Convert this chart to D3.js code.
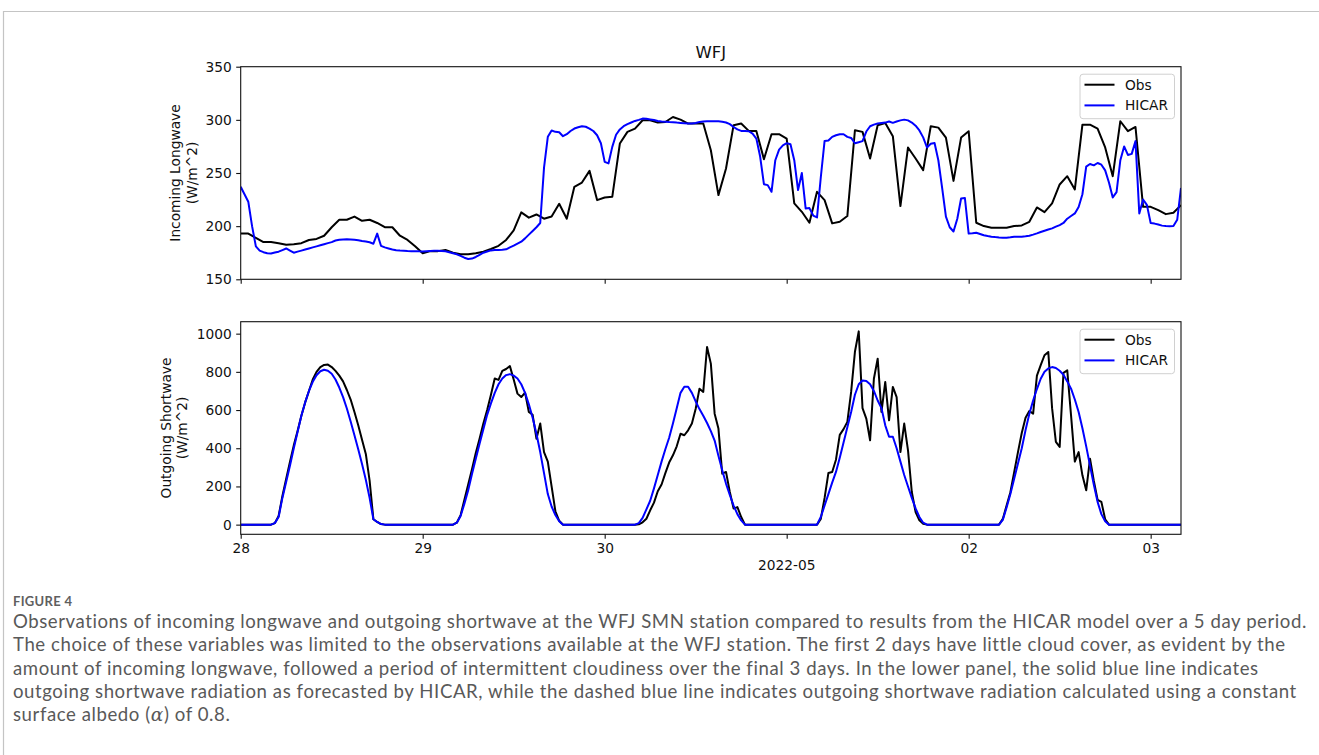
<!DOCTYPE html>
<html><head><meta charset="utf-8">
<script src="https://cdn.jsdelivr.net/npm/d3@7"></script>
<style>
body{margin:0;background:#fff;}
svg{display:block;}
</style></head><body>
<svg id="fig" width="1319" height="755"></svg>
<script>
// ---------------- DATA ----------------
const startDate = "2022-04-28T00:00:00Z";
const lastHour = 124;              // series run to 2022-05-03 04:00
const obsLwStepHours = 1;          // observed longwave: hourly
const halfHourStep = 0.5;          // HICAR and shortwave: half-hourly
const dayTickLabels = ["28", "29", "30", "", "02", "03"];
const offsetLabel = "2022-05";
const titleText = "WFJ";
const seriesNames = ["Obs", "HICAR"];
const lwTicks = [150, 200, 250, 300, 350];
const swTicks = [0, 200, 400, 600, 800, 1000];
const lwLabel = ["Incoming Longwave", "(W/m^2)"];
const swLabel = ["Outgoing Shortwave", "(W/m^2)"];

// Incoming longwave, observed (hourly, W/m^2)
const lwObs = [
 193,193,189,185,185,184,182.5,183,184,187,188,191,199,206,206,209,205,206,203,199,199,191,187,181,
 174.5,176.5,176.5,177.5,175,173.5,173.5,174.5,176,178.5,181.5,187,196,213,208,211,207,209,221,207,237,241,252,224.5,
 227,227.6,277.7,288.7,291.8,299.6,299.6,297.4,298,302.7,300.2,296.5,296.5,296.5,271.4,229.2,254.2,295,296.5,289.6,289.6,263,286.5,286.5,
 282.4,221.4,213.5,203.2,232.3,224.5,202.6,204.1,209.5,290.2,288.7,263.6,294.9,297.1,284.6,218.9,274,263.6,252.7,294,292.7,283.3,242.6,283.3,
 289.3,203.2,200.1,198.5,198.5,198.5,200.1,200.7,204.1,217.6,213.2,221.4,239.2,247,234.5,295.5,295.5,291.8,274,247,298.7,289.3,293.3,218.2,
 218.2,215.1,211.3,212.6,219.8
];
// Incoming longwave, HICAR (half-hourly, W/m^2)
const lwHicar = [
 237,230,223,200,181,177,175.5,174.5,174.3,175.2,176,177.5,179,177,175,176,177,178,179,180,181,182,183,184,
 185,186.5,187.2,187.5,187.6,187.5,187.2,186.8,186,185.5,184.8,183.5,193,181.5,180,179,178,177.3,177,176.8,176.6,176.5,176.5,176.3,
 176.2,176.4,176.6,176.8,176.8,176.6,176.4,175.5,174.5,173.5,172,170.3,169.1,169.5,171,173,175,176.2,177.2,177.5,177.6,177.8,178.2,180,
 181.6,183.5,185.4,188.5,192,195.5,199,203,255,284,290,288.7,288.3,284.6,286.5,289.5,291.8,293,294,293.5,291.8,289.5,285.5,278,
 260.5,259,274.6,286,291,294,296,297.5,299,300,301.2,301,300.4,299.8,299,298.5,298.3,298,297.8,297.4,297.1,296.8,296.5,296.5,
 297,298,298.5,298.7,298.7,298.7,298.7,298.3,297.5,296,293.3,291,289.6,289.5,289.3,287,282.4,265.5,239.5,238.6,232.3,262,272,276,
 278,277,262,234,250,216.7,217,210,208.2,246,280.2,280.5,284,285.5,286.5,286.5,284,283,278,279,280,289,294,295.5,
 296.5,297,297.4,298.5,297.2,298.5,299.5,300.2,299.5,297.5,294.5,290,283.5,274,277.5,278.3,262,236,209,199,195,207,226,226.5,
 193,193.3,193.8,192.6,191.4,190.7,190.1,189.7,189.4,189.2,189.1,189.5,190,190.1,190.1,190.5,191,192,193.2,194.5,195.7,196.8,197.9,199.5,
 201,203,207,209.5,212,218,230,256,258.5,257.2,259.4,257.8,252.5,241,227,232,262,275,267,268,280,212,225,220,
 203,202.4,201.5,200.5,200.1,200,200.1,206,236
];
// Outgoing shortwave, observed (half-hourly, W/m^2)
const swObs = [
 0,0,0,0,0,0,0,0, 0,8,45,150,240,330,415,490,570,640,700,760,800,825,836,838,825,805,780,750,705,655,590,520,445,370,230,28,14,3, 0,0,0,0,0,0,0,0,0,0,
 0,0,0,0,0,0,0,0, 0,10,50,130,210,290,375,450,530,600,680,765,758,805,815,830,760,686,668,691,590,575,450,530,380,330,200,70,20,0, 0,0,0,0,0,0,0,0,0,0,
 0,0,0,0,0,0,0,0, 0,2,12,31,75,115,175,210,270,325,363,410,476,468,494,529,607,712,695,930,843,581,503,267,276,171,84,92,40,0, 0,0,0,0,0,0,0,0,0,0,
 0,0,0,0,0,0,0,0, 0,30,140,270,276,340,470,500,538,695,905,1012,610,555,442,764,869,590,747,546,721,668,380,529,389,171,66,23,5,0, 0,0,0,0,0,0,0,0,0,0,
 0,0,0,0,0,0,0,0, 0,30,100,170,275,380,480,560,595,581,780,835,887,904,610,433,407,795,808,572,330,380,258,180,345,230,130,119,28,0, 0,0,0,0,0,0,0,0,0,0,
 0,0,0,0,0,0,0,0,0
];
// Outgoing shortwave, HICAR (half-hourly, W/m^2)
const swHicar = [
 0,0,0,0,0,0,0,0, 0,8,40,140,225,310,400,485,570,640,700,748,782,803,811,806,790,760,718,668,608,540,468,395,318,235,140,28,14,3, 0,0,0,0,0,0,0,0,0,0,
 0,0,0,0,0,0,0,0, 0,10,45,110,180,265,345,424,500,575,635,690,735,765,783,788,780,765,735,690,630,560,476,380,270,160,95,50,18,0, 0,0,0,0,0,0,0,0,0,0,
 0,0,0,0,0,0,0,0, 0,8,35,80,125,190,260,330,395,455,530,610,690,722,722,690,645,605,570,532,490,440,360,285,215,155,100,55,22,0, 0,0,0,0,0,0,0,0,0,0,
 0,0,0,0,0,0,0,0, 0,40,100,160,220,276,350,430,510,590,680,735,755,752,735,700,650,610,520,460,460,400,330,260,200,140,85,40,10,0, 0,0,0,0,0,0,0,0,0,0,
 0,0,0,0,0,0,0,0, 0,25,90,160,240,320,400,495,580,650,710,764,800,818,825,820,806,785,750,712,655,590,505,410,310,210,119,55,18,0, 0,0,0,0,0,0,0,0,0,0,
 0,0,0,0,0,0,0,0,0
];

const captionHead = "FIGURE 4";
const captionLines = [
 "Observations of incoming longwave and outgoing shortwave at the WFJ SMN station compared to results from the HICAR model over a 5 day period.",
 "The choice of these variables was limited to the observations available at the WFJ station. The first 2 days have little cloud cover, as evident by the",
 "amount of incoming longwave, followed a period of intermittent cloudiness over the final 3 days. In the lower panel, the solid blue line indicates",
 "outgoing shortwave radiation as forecasted by HICAR, while the dashed blue line indicates outgoing shortwave radiation calculated using a constant"
];
const captionLast = ["surface albedo (", "α", ") of 0.8."];

// ---------------- LAYOUT ----------------
const FONT = "'DejaVu Sans', sans-serif";
const FS = 13.75;
const colors = {Obs: "#000000", HICAR: "#0000ff"};
const L = 240.7, R = 1181;
const topPanel = {y0: 66.7, y1: 279.3};
const botPanel = {y0: 321.7, y1: 534.3};

const svg = d3.select("#fig");
const t0 = new Date(startDate);
const toDate = h => new Date(t0.getTime() + h * 3600e3);

const x = d3.scaleUtc().domain([toDate(0), toDate(lastHour)]).range([L, R]);
const days = d3.utcDay.range(toDate(0), toDate(lastHour));

const mkSeries = (vals, step) => vals.map((v, i) => ({t: toDate(i * step), v}));

// frame of the figure block
svg.append("line").attr("x1", 3).attr("x2", 1319).attr("y1", 11.5).attr("y2", 11.5)
  .attr("stroke", "#c4c4c4").attr("stroke-width", 1.2);
svg.append("line").attr("x1", 3.5).attr("x2", 3.5).attr("y1", 11).attr("y2", 755)
  .attr("stroke", "#c4c4c4").attr("stroke-width", 1.2);

function panel(p, yDomain, yTicks, series, labelLines, showXLabels, id) {
  const y = d3.scaleLinear().domain(yDomain).range([p.y1, p.y0]);
  const g = svg.append("g");
  g.append("clipPath").attr("id", id).append("rect")
    .attr("x", L).attr("y", p.y0).attr("width", R - L).attr("height", p.y1 - p.y0);

  const line = d3.line().x(d => x(d.t)).y(d => y(d.v));
  series.forEach(s => {
    g.append("path").datum(s.data).attr("clip-path", `url(#${id})`)
      .attr("d", line).attr("fill", "none").attr("stroke", colors[s.name])
      .attr("stroke-width", 2).attr("stroke-linejoin", "round");
  });

  // y axis
  const ya = g.append("g").attr("transform", `translate(${L},0)`)
    .call(d3.axisLeft(y).tickValues(yTicks).tickFormat(d3.format("d"))
      .tickSize(4.5).tickPadding(4.5).tickSizeOuter(0));
  ya.select(".domain").remove();
  // x axis
  const xa = g.append("g").attr("transform", `translate(0,${p.y1})`)
    .call(d3.axisBottom(x).tickValues(days).tickSize(4.5).tickPadding(4.5).tickSizeOuter(0)
      .tickFormat((d, i) => showXLabels ? dayTickLabels[i] : ""));
  xa.select(".domain").remove();
  [ya, xa].forEach(a => {
    a.selectAll("text").attr("font-family", FONT).attr("font-size", FS).attr("fill", "#111");
    a.selectAll("line").attr("stroke", "#111").attr("stroke-width", 1.1);
  });

  // spines
  g.append("rect").attr("x", L).attr("y", p.y0).attr("width", R - L).attr("height", p.y1 - p.y0)
    .attr("fill", "none").attr("stroke", "#111").attr("stroke-width", 1.1);

  // y label (two lines)
  const cy = (p.y0 + p.y1) / 2;
  const lx = labelLines[0].length > 17 ? [165.5, 182.3] : [175, 191.7];
  labelLines.forEach((t, i) => {
    g.append("text").attr("transform", `translate(${lx[i]},${cy}) rotate(-90)`)
      .attr("text-anchor", "middle").attr("dominant-baseline", "central")
      .attr("font-family", FONT).attr("font-size", FS).attr("fill", "#111").text(t);
  });

  // legend
  const lg = g.append("g").attr("transform", `translate(1080,${p.y0 + 7.5})`);
  lg.append("rect").attr("width", 94.5).attr("height", 44.5).attr("rx", 3)
    .attr("fill", "#fff").attr("fill-opacity", 0.8).attr("stroke", "#d0d0d0").attr("stroke-width", 1);
  seriesNames.forEach((n, i) => {
    const yy = 10.5 + i * 20.7;
    lg.append("line").attr("x1", 4.5).attr("x2", 34.5).attr("y1", yy).attr("y2", yy)
      .attr("stroke", colors[n]).attr("stroke-width", 2);
    lg.append("text").attr("x", 45).attr("y", yy).attr("dominant-baseline", "central")
      .attr("font-family", FONT).attr("font-size", FS).attr("fill", "#111").text(n);
  });
  return y;
}

panel(topPanel, [150, 350], lwTicks, [
  {name: "Obs", data: mkSeries(lwObs, obsLwStepHours)},
  {name: "HICAR", data: mkSeries(lwHicar, halfHourStep)}
], lwLabel, false, "clipTop");

const swAll = swObs.concat(swHicar);
const swMin = d3.min(swAll), swMax = d3.max(swAll), swPad = (swMax - swMin) * 0.05;
panel(botPanel, [swMin - swPad, swMax + swPad], swTicks, [
  {name: "Obs", data: mkSeries(swObs, halfHourStep)},
  {name: "HICAR", data: mkSeries(swHicar, halfHourStep)}
], swLabel, true, "clipBot");

// title
svg.append("text").attr("x", (L + R) / 2).attr("y", 58).attr("text-anchor", "middle")
  .attr("font-family", FONT).attr("font-size", 16.5).attr("fill", "#111").text(titleText);
// date offset label under the 1 May tick
svg.append("text").attr("x", x(days[3])).attr("y", 570).attr("text-anchor", "middle")
  .attr("font-family", FONT).attr("font-size", FS).attr("fill", "#111").text(offsetLabel);

// ---------------- CAPTION ----------------
const CAPF = "Lato, 'Open Sans', sans-serif";
svg.append("text").attr("x", 13).attr("y", 606).attr("font-family", CAPF).attr("font-size", 13)
  .attr("font-weight", 700).attr("fill", "#5f5f5f").attr("letter-spacing", 0.3).text(captionHead);
const capSize = 18.6;
const probe = svg.append("text").attr("font-family", CAPF).attr("font-size", capSize).text(captionLines[0]);
const capSpacing = Math.max(0, (1294 - probe.node().getComputedTextLength()) / (captionLines[0].length - 1));
probe.remove();
const capBase = [628, 651.3, 674.6, 697.9, 721.2];
captionLines.forEach((t, i) => {
  svg.append("text").attr("x", 13).attr("y", capBase[i]).attr("font-family", CAPF)
    .attr("font-size", capSize).attr("letter-spacing", capSpacing).attr("fill", "#595959").text(t);
});
const last = svg.append("text").attr("x", 13).attr("y", capBase[4]).attr("font-family", CAPF)
  .attr("font-size", capSize).attr("letter-spacing", capSpacing).attr("fill", "#595959");
last.append("tspan").text(captionLast[0]);
last.append("tspan").attr("font-family", "'DejaVu Serif', serif").attr("font-style", "italic").text(captionLast[1]);
last.append("tspan").text(captionLast[2]);
</script>
</body></html>
